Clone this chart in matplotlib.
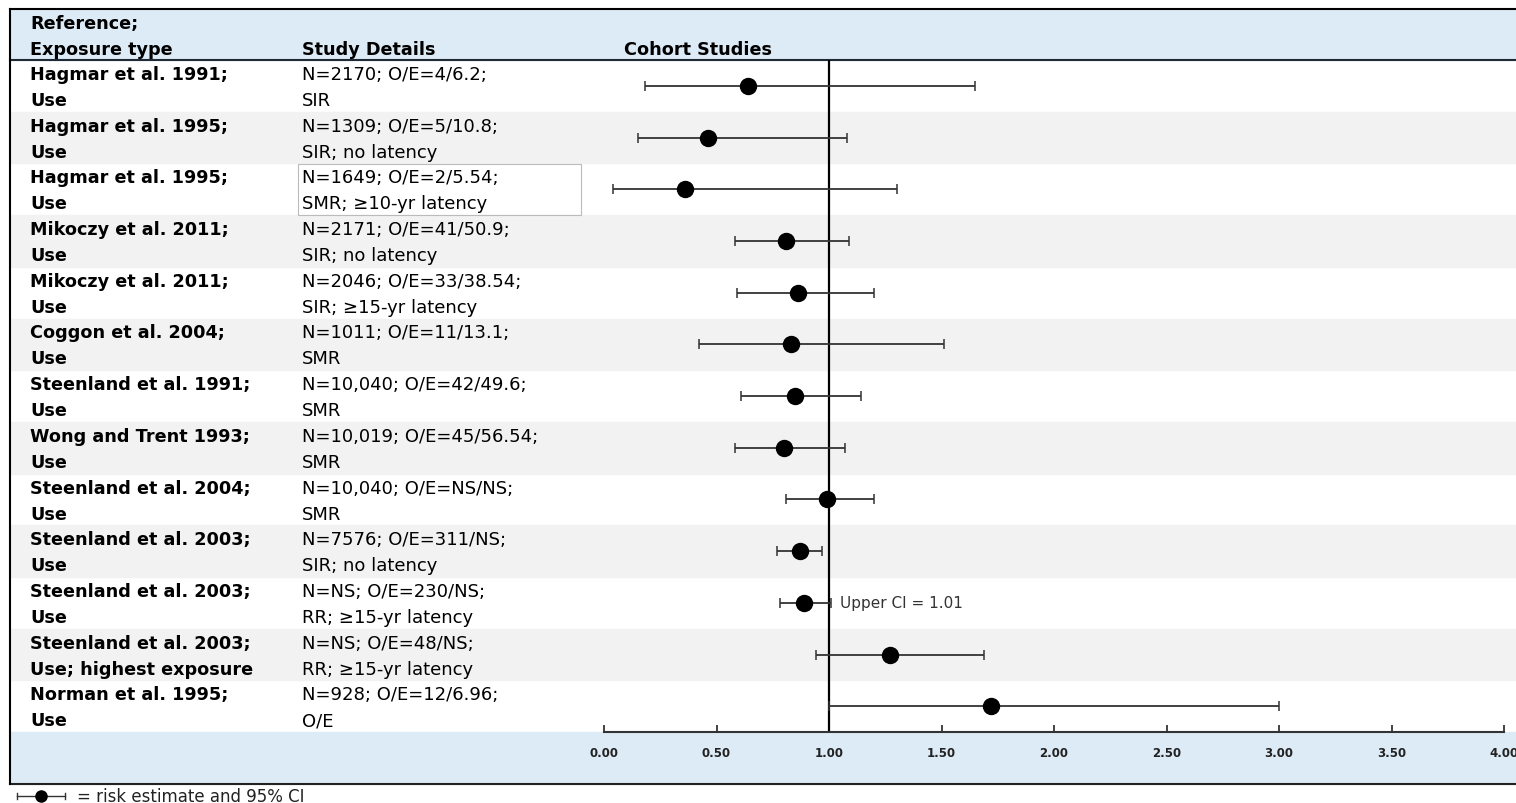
import numpy as np
from matplotlib import pyplot as plt
from matplotlib.patches import Rectangle
from matplotlib.lines import Line2D

# study rows, top to bottom
refs = ["Hagmar et al. 1991;", "Hagmar et al. 1995;", "Hagmar et al. 1995;",
        "Mikoczy et al. 2011;", "Mikoczy et al. 2011;", "Coggon et al. 2004;",
        "Steenland et al. 1991;", "Wong and Trent 1993;", "Steenland et al. 2004;",
        "Steenland et al. 2003;", "Steenland et al. 2003;", "Steenland et al. 2003;",
        "Norman et al. 1995;"]
exposure = ["Use", "Use", "Use", "Use", "Use", "Use", "Use", "Use", "Use", "Use",
            "Use", "Use; highest exposure", "Use"]
details_1 = ["N=2170; O/E=4/6.2;", "N=1309; O/E=5/10.8;", "N=1649; O/E=2/5.54;",
             "N=2171; O/E=41/50.9;", "N=2046; O/E=33/38.54;", "N=1011; O/E=11/13.1;",
             "N=10,040; O/E=42/49.6;", "N=10,019; O/E=45/56.54;", "N=10,040; O/E=NS/NS;",
             "N=7576; O/E=311/NS;", "N=NS; O/E=230/NS;", "N=NS; O/E=48/NS;",
             "N=928; O/E=12/6.96;"]
details_2 = ["SIR", "SIR; no latency", "SMR; \u226510-yr latency", "SIR; no latency",
             "SIR; \u226515-yr latency", "SMR", "SMR", "SMR", "SMR", "SIR; no latency",
             "RR; \u226515-yr latency", "RR; \u226515-yr latency", "O/E"]
estimate = [0.64, 0.46, 0.36, 0.81, 0.86, 0.83, 0.85, 0.80, 0.99, 0.87, 0.89, 1.27, 1.72]
ci_low = [0.18, 0.15, 0.04, 0.58, 0.59, 0.42, 0.61, 0.58, 0.81, 0.77, 0.78, 0.94, 1.00]
ci_high = [1.65, 1.08, 1.30, 1.09, 1.20, 1.51, 1.14, 1.07, 1.20, 0.97, 1.01, 1.69, 3.00]
x_ticks = [0, 0.5, 1, 1.5, 2, 2.5, 3, 3.5, 4]

W, H = 1516, 804
fig = plt.figure(figsize=(W / 100, H / 100), dpi=100)
plt.rcParams['font.family'] = ['DejaVu Sans']

# background layer in pixel coordinates
bg = fig.add_axes([0, 0, 1, 1])
bg.set_xlim(0, W)
bg.set_ylim(H, 0)
bg.axis('off')

top, row_h = 61, 51.7
n = len(refs)
bottom = top + n * row_h

bg.add_patch(Rectangle((10, 10), W - 10, top - 10, color='#DDEBF7', zorder=0))
bg.add_patch(Rectangle((10, bottom), W - 10, 785 - bottom, color='#DDEBF7', zorder=0))
for i in range(n):
    if i % 2 == 1:
        bg.add_patch(Rectangle((10, top + i * row_h), W - 10, row_h, color='#F2F2F2', zorder=0))
bg.plot([10, W], [10, 10], color='black', lw=1.5)
bg.plot([10, W], [top, top], color='#1F2A36', lw=1.5)
bg.plot([10, W], [785, 785], color='#222222', lw=1.5)
bg.plot([10, 10], [10, 785], color='black', lw=1.5)
bg.add_patch(Rectangle((298, top + 2 * row_h + 1), 283, row_h - 1, fill=False,
                       edgecolor='#BBBBBB', lw=0.8, zorder=2))

bfs, nfs = 12.7, 13
bg.text(30, 24, "Reference;", fontsize=bfs, fontweight='bold', va='center')
bg.text(30, 50, "Exposure type", fontsize=bfs, fontweight='bold', va='center')
bg.text(302, 50, "Study Details", fontsize=bfs, fontweight='bold', va='center')
bg.text(624, 50, "Cohort Studies", fontsize=bfs, fontweight='bold', va='center')
for i in range(n):
    y0 = top + i * row_h
    bg.text(30, y0 + 14, refs[i], fontsize=bfs, fontweight='bold', va='center')
    bg.text(30, y0 + 40, exposure[i], fontsize=bfs, fontweight='bold', va='center')
    bg.text(302, y0 + 14, details_1[i], fontsize=nfs, va='center')
    bg.text(302, y0 + 40, details_2[i], fontsize=nfs, va='center')

# legend glyph below the table
bg.add_line(Line2D([17, 65], [797, 797], color='#333333', lw=1.0))
bg.add_line(Line2D([17, 17], [794, 800], color='#333333', lw=1.0))
bg.add_line(Line2D([65, 65], [794, 800], color='#333333', lw=1.0))
bg.plot([41], [797], 'o', color='black', markersize=8)
bg.text(77, 797, "= risk estimate and 95% CI", fontsize=12, va='center', color='#222222')

# forest plot axes
x0, x1 = 604, 1504
ax = fig.add_axes([x0 / W, (H - bottom) / H, (x1 - x0) / W, (bottom - top) / H])
ax.patch.set_alpha(0)
ax.set_xlim(0, 4)
ax.set_ylim(n, 0)
rows = np.arange(n) + 0.5
ax.errorbar(estimate, rows,
            xerr=[np.array(estimate) - np.array(ci_low), np.array(ci_high) - np.array(estimate)],
            fmt='o', color='black', ecolor='#333333', elinewidth=1.3, capsize=3.5,
            capthick=1.1, markersize=11.5, zorder=3)
ax.axvline(1, color='black', lw=1.6, zorder=2)
ax.annotate("Upper CI = 1.01", xy=(1.01, rows[10]), xytext=(6, 0), textcoords='offset points',
            va='center', fontsize=11, color='#333333')
for s in ['top', 'right', 'left']:
    ax.spines[s].set_visible(False)
ax.spines['bottom'].set_linewidth(1.5)
ax.spines['bottom'].set_color('#333333')
ax.set_yticks([])
ax.set_xticks(x_ticks)
ax.set_xticklabels(["%.2f" % t for t in x_ticks], fontsize=8.5, fontweight='bold')
ax.tick_params(axis='x', direction='in', length=5, width=1.2, pad=10, colors='#222222')

fig.savefig("out.png", dpi=100)
